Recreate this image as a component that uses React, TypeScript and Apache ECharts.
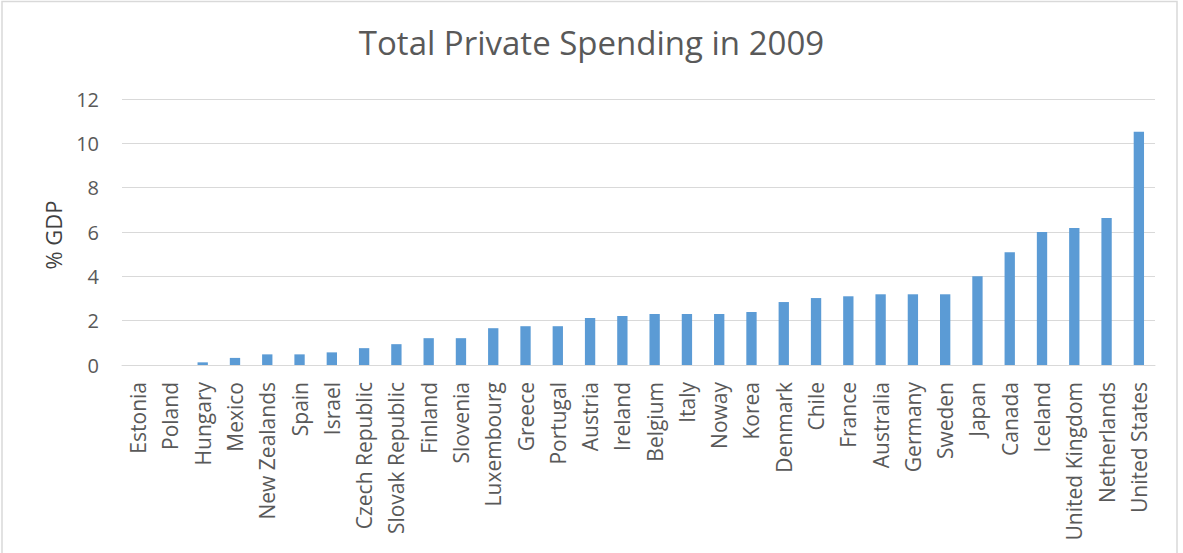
import React, { useEffect, useRef } from "react";
import * as echarts from "echarts";

const categories: string[] = [
  "Estonia", "Poland", "Hungary", "Mexico", "New Zealands", "Spain", "Israel",
  "Czech Republic", "Slovak Republic", "Finland", "Slovenia", "Luxembourg",
  "Greece", "Portugal", "Austria", "Ireland", "Belgium", "Italy", "Noway",
  "Korea", "Denmark", "Chile", "France", "Australia", "Germany", "Sweden",
  "Japan", "Canada", "Iceland", "United Kingdom", "Netherlands", "United States",
];

const values: number[] = [
  0, 0, 0.12, 0.32, 0.48, 0.48, 0.57, 0.76, 0.94, 1.21, 1.21, 1.66,
  1.75, 1.75, 2.12, 2.21, 2.3, 2.3, 2.3, 2.39, 2.84, 3.02, 3.1, 3.19,
  3.19, 3.19, 4.0, 5.09, 6.0, 6.18, 6.63, 10.52,
];

const yTicks = { min: 0, max: 12, interval: 2 };
const titleText = "Total Private Spending in 2009";
const yAxisName = "% GDP";

const FONT = "'Open Sans', 'DejaVu Sans', sans-serif";
const TEXT = "#595959";
const GRID = "#d9d9d9";

export default function App() {
  const ref = useRef<HTMLDivElement>(null);
  useEffect(() => {
    document.body.style.margin = "0";
    if (!ref.current) return;
    const chart = echarts.init(ref.current, undefined, { renderer: "svg" });
    chart.setOption({
      animation: false,
      backgroundColor: "#ffffff",
      title: {
        text: titleText,
        left: "center",
        top: 21,
        textStyle: { fontFamily: FONT, fontSize: 33, fontWeight: "normal", color: TEXT },
      },
      graphic: [
        {
          type: "rect",
          shape: { x: 2, y: 1.5, width: 1175, height: 560 },
          style: { fill: "none", stroke: GRID, lineWidth: 1.5 },
          silent: true,
        },
      ],
      grid: { left: 122, right: 28, top: 99, bottom: 188, containLabel: false },
      xAxis: {
        type: "category",
        data: categories,
        axisLine: { show: true, lineStyle: { color: GRID, width: 1 } },
        axisTick: { show: false },
        axisLabel: {
          interval: 0,
          rotate: 90,
          margin: 17,
          fontFamily: FONT,
          fontSize: 21,
          color: TEXT,
        },
      },
      yAxis: {
        type: "value",
        min: yTicks.min,
        max: yTicks.max,
        interval: yTicks.interval,
        name: yAxisName,
        nameLocation: "middle",
        nameGap: 58,
        nameRotate: 90,
        nameTextStyle: { fontFamily: FONT, fontSize: 22, color: "#404040", padding: [0, 6, 0, 0] },
        axisLine: { show: false },
        axisTick: { show: false },
        axisLabel: { margin: 23, fontFamily: FONT, fontSize: 20, color: TEXT },
        splitLine: { show: true, lineStyle: { color: GRID, width: 1 } },
      },
      series: [
        {
          type: "bar",
          data: values,
          barWidth: "32%",
          itemStyle: { color: "#5B9BD5" },
        },
      ],
    });
    return () => chart.dispose();
  }, []);
  return (
    <div
      ref={ref}
      style={{ position: "fixed", left: 0, top: 0, width: 1183, height: 553 }}
    />
  );
}
